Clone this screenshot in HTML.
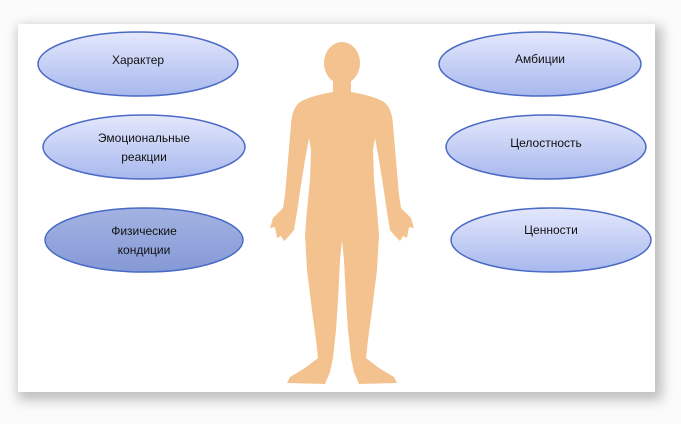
<!DOCTYPE html>
<html><head><meta charset="utf-8"><style>
html,body{margin:0;padding:0;background:#fff;}
body{width:681px;height:424px;overflow:hidden;position:relative;font-family:"Liberation Sans","DejaVu Sans",sans-serif;}
</style></head><body>
<svg width="681" height="424" viewBox="0 0 681 424" xmlns="http://www.w3.org/2000/svg" style="position:absolute;left:0;top:0">
<defs>
<linearGradient id="g" x1="0" y1="0" x2="0" y2="1">
<stop offset="0" stop-color="#e4e8fc"/><stop offset="1" stop-color="#a8b8ee"/></linearGradient>
<linearGradient id="g2" x1="0" y1="0" x2="0" y2="1">
<stop offset="0" stop-color="#a3b3e2"/><stop offset="1" stop-color="#8599d6"/></linearGradient>
<filter id="sh" x="-10%" y="-10%" width="120%" height="120%"><feGaussianBlur stdDeviation="6"/></filter>
</defs>
<rect x="0" y="0" width="681" height="424" fill="#fbfbfb"/>
<rect x="18" y="26" width="644" height="374" fill="#bdbdbd" filter="url(#sh)"/>
<rect x="18" y="24" width="637" height="368" fill="#ffffff"/>
<g fill="#f3c28e">
<ellipse cx="342" cy="63" rx="18" ry="21"/>
<path d="M333,78 L333,92 Q310,96 300,102 Q292,108 291,125 L288,160 L285,195 L283,208 L273,218 L270,228 L275,227 L277,238 L281,236 L284,241 L289,236 L294,230 L297,212 L301,185 L305,160 L309,138 L311,150 L310,180 L307,210 L305,235 L307,270 L312,310 L316,340 L318,358 L305,368 L290,377 L287,383 L325,384 L330,372 L333,358 L336,330 L338,300 L340,260 L342,240 L344,260 L346,300 L348,330 L351,358 L354,372 L359,384 L397,383 L394,377 L379,368 L366,358 L368,340 L372,310 L377,270 L379,235 L377,210 L374,180 L373,150 L375,138 L379,160 L383,185 L387,212 L390,230 L395,236 L400,241 L403,236 L407,238 L409,227 L414,228 L411,218 L401,208 L399,195 L396,160 L393,125 Q392,108 384,102 Q374,96 351,92 L351,78 Z"/>
</g>
<g stroke="#4a6ac4" stroke-width="1.5">
<ellipse cx="138" cy="64" rx="100" ry="32" fill="url(#g)"/>
<ellipse cx="144" cy="147" rx="101" ry="32" fill="url(#g)"/>
<ellipse cx="144" cy="240" rx="99" ry="32" fill="url(#g2)"/>
<ellipse cx="540" cy="64" rx="101" ry="32" fill="url(#g)"/>
<ellipse cx="546" cy="147" rx="100" ry="32" fill="url(#g)"/>
<ellipse cx="551" cy="240" rx="100" ry="32" fill="url(#g)"/>
</g>
<g font-family="Liberation Sans, DejaVu Sans, sans-serif" font-size="12" fill="#111" text-anchor="middle">
<text x="138" y="64">Характер</text>
<text x="144" y="142">Эмоциональные</text>
<text x="144" y="161">реакции</text>
<text x="144" y="235">Физические</text>
<text x="144" y="254">кондиции</text>
<text x="540" y="63">Амбиции</text>
<text x="546" y="147">Целостность</text>
<text x="551" y="234">Ценности</text>
</g>
</svg>
</body></html>
